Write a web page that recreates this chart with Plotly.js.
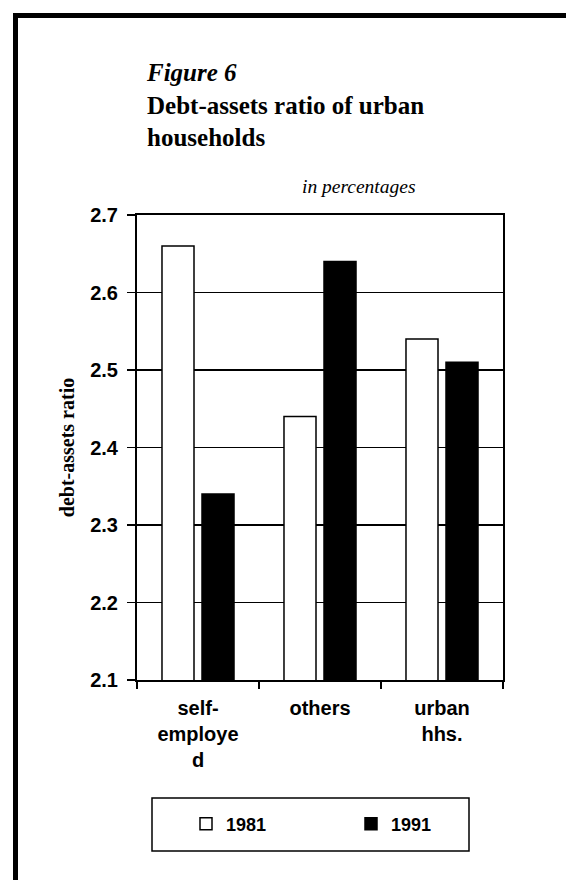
<!DOCTYPE html>
<html>
<head>
<meta charset="utf-8">
<script src="https://cdn.plot.ly/plotly-3.0.1.min.js"></script>
<style>html,body{margin:0;padding:0;background:#fff;}#chart{width:566px;height:880px;}</style>
</head>
<body>
<div id="chart"></div>
<script>
// ---- data ----
const categories = ["self-employed", "others", "urban hhs."];
const categoryLabels = ["self-<br>employe<br>d", "others", "urban<br>hhs."];
const series1981 = [2.66, 2.44, 2.54];
const series1991 = [2.34, 2.64, 2.51];
const seriesNames = ["1981", "1991"];
const yTickVals = [2.1, 2.2, 2.3, 2.4, 2.5, 2.6, 2.7];

// ---- geometry helpers (plot area in pixels) ----
const W = 566, H = 880;
const PL = 137, PR = 503, PT = 215, PB = 680;
const px2x = p => (p - PL) / (PR - PL);
const py2y = p => (PB - p) / (PB - PT);

const sans = "Liberation Sans, Arial, sans-serif";
const serif = "Liberation Serif, Times New Roman, serif";

const traces = [
  {
    type: "bar", name: seriesNames[0], x: categories, y: series1981,
    marker: {color: "#ffffff", line: {color: "#000000", width: 1.5}}
  },
  {
    type: "bar", name: seriesNames[1], x: categories, y: series1991,
    marker: {color: "#000000", line: {color: "#000000", width: 1.5}}
  }
];

const layout = {
  width: W, height: H,
  paper_bgcolor: "#ffffff", plot_bgcolor: "#ffffff",
  margin: {l: PL, r: W - PR, t: PT, b: H - PB, pad: 0},
  barmode: "group", bargap: 0.344, bargroupgap: 0.2,
  title: {
    text: "<b><i>Figure 6</i></b><br><b>Debt-assets ratio of urban</b><br><b>households</b>",
    font: {family: serif, size: 25, color: "#000"},
    x: 147 / W, xanchor: "left", xref: "container",
    y: 1 - 81 / H, yanchor: "top", yref: "container"
  },
  font: {family: sans, color: "#000"},
  xaxis: {
    type: "category",
    tickmode: "array", tickvals: categories, ticktext: categoryLabels,
    tickson: "boundaries", ticks: "outside", ticklen: 7, tickwidth: 1.5, tickcolor: "#000",
    showline: true, linecolor: "#000", linewidth: 2, mirror: true,
    showgrid: false, zeroline: false,
    tickfont: {family: sans, size: 20, color: "#000", weight: "bold"},
    ticklabelstandoff: 9
  },
  yaxis: {
    range: [2.1, 2.7], tickmode: "array", tickvals: yTickVals,
    tickformat: ".1f",
    ticks: "outside", ticklen: 8, tickwidth: 1.5, tickcolor: "#000",
    showline: true, linecolor: "#000", linewidth: 2, mirror: true,
    showgrid: true, gridcolor: "#000", gridwidth: 1.5, zeroline: false,
    tickfont: {family: sans, size: 20, color: "#000", weight: "bold"},
    ticklabelstandoff: 5,
    title: {text: "debt-assets ratio", font: {family: serif, size: 20, color: "#000", weight: "bold"}, standoff: 10}
  },
  showlegend: true,
  legend: {
    orientation: "h",
    x: px2x(186), xanchor: "left", xref: "paper",
    y: py2y(824), yanchor: "middle", yref: "paper",
    font: {family: sans, size: 18, color: "#000", weight: "bold"},
    bgcolor: "rgba(0,0,0,0)", borderwidth: 0,
    entrywidth: 120, entrywidthmode: "pixels",
    traceorder: "normal"
  },
  annotations: [
    {
      text: "<i>in percentages</i>", showarrow: false,
      xref: "paper", yref: "paper",
      x: px2x(358.5), y: py2y(187), xanchor: "center", yanchor: "middle",
      font: {family: serif, size: 19.5, color: "#000"}
    }
  ],
  shapes: [
    // legend frame
    {type: "rect", xref: "paper", yref: "paper",
     x0: px2x(152), x1: px2x(469), y0: py2y(851), y1: py2y(798),
     line: {color: "#000", width: 1.5}, fillcolor: "rgba(0,0,0,0)"},
    // page frame: left and top rules
    {type: "line", xref: "paper", yref: "paper",
     x0: px2x(15.5), x1: px2x(15.5), y0: py2y(13), y1: py2y(H),
     line: {color: "#000", width: 5}},
    {type: "line", xref: "paper", yref: "paper",
     x0: px2x(13), x1: px2x(W), y0: py2y(15.5), y1: py2y(15.5),
     line: {color: "#000", width: 5}}
  ]
};

Plotly.newPlot("chart", traces, layout, {staticPlot: true, displayModeBar: false});
</script>
</body>
</html>
